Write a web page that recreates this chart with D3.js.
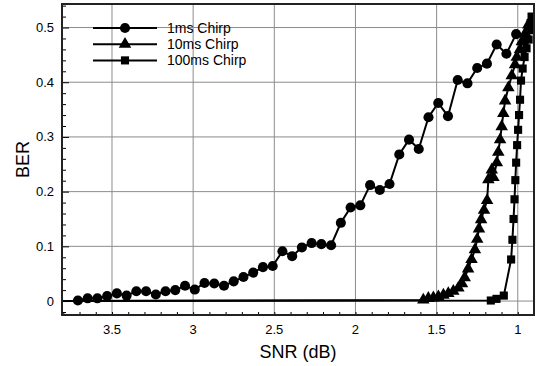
<!DOCTYPE html>
<html>
<head>
<meta charset="utf-8">
<script src="https://cdn.jsdelivr.net/npm/d3@7"></script>
<style>
  body { margin: 0; background: #fff; }
  text { font-family: "Liberation Sans", Arial, sans-serif; fill: #000; }
</style>
</head>
<body>
<script>
// series data
const snr1ms = [3.71, 3.65, 3.59, 3.53, 3.47, 3.41, 3.35, 3.29, 3.23, 3.17, 3.11, 3.05, 2.99, 2.93, 2.87, 2.81,
  2.75, 2.69, 2.63, 2.57, 2.51, 2.45, 2.39, 2.33, 2.27, 2.21, 2.15, 2.09, 2.03, 1.97, 1.91, 1.85, 1.79, 1.73,
  1.67, 1.61, 1.55, 1.49, 1.43, 1.37, 1.31, 1.25, 1.19, 1.13, 1.07, 1.01, 0.95];
const ber1ms = [0.001, 0.005, 0.005, 0.009, 0.014, 0.010, 0.018, 0.018, 0.012, 0.018, 0.020, 0.028, 0.021, 0.033,
  0.032, 0.028, 0.036, 0.044, 0.052, 0.062, 0.064, 0.091, 0.082, 0.098, 0.106, 0.104, 0.102, 0.143, 0.171, 0.175,
  0.212, 0.203, 0.214, 0.268, 0.295, 0.278, 0.336, 0.362, 0.338, 0.404, 0.398, 0.426, 0.434, 0.469, 0.452, 0.488, 0.482];

const snr10ms = [3.9, 1.582, 1.551, 1.520, 1.489, 1.458, 1.428, 1.397, 1.366, 1.344, 1.327, 1.306, 1.285, 1.264,
  1.250, 1.239, 1.226, 1.208, 1.189, 1.181, 1.160, 1.150, 1.129, 1.120, 1.109, 1.099, 1.089, 1.078, 1.058, 1.037,
  1.017, 1.006, 0.986, 0.975, 0.955, 0.935];
const ber10ms = [0, 0.002, 0.005, 0.006, 0.008, 0.011, 0.014, 0.018, 0.024, 0.032, 0.043, 0.059, 0.076, 0.094,
  0.113, 0.132, 0.149, 0.166, 0.184, 0.222, 0.240, 0.226, 0.253, 0.272, 0.295, 0.319, 0.343, 0.366, 0.390, 0.412,
  0.432, 0.446, 0.460, 0.474, 0.489, 0.505];

const snr100ms = [3.9, 1.166, 1.131, 1.086, 1.041, 1.033, 1.026, 1.020, 1.015, 1.010, 1.004, 0.998, 0.992, 0.986,
  0.980, 0.970, 0.958, 0.946, 0.933, 0.927, 0.921, 0.915];
const ber100ms = [0, 0.001, 0.004, 0.010, 0.076, 0.112, 0.150, 0.186, 0.221, 0.253, 0.285, 0.313, 0.340, 0.368,
  0.403, 0.425, 0.446, 0.462, 0.478, 0.495, 0.508, 0.520];

const seriesNames = ["1ms Chirp", "10ms Chirp", "100ms Chirp"];
const xTicks = [3.5, 3, 2.5, 2, 1.5, 1];
const yTicks = [0, 0.1, 0.2, 0.3, 0.4, 0.5];

const width = 537, height = 366;
const margin = {top: 4, right: 3, bottom: 51, left: 62};

const svg = d3.select("body").append("svg")
  .attr("width", width)
  .attr("height", height);

const x = d3.scaleLinear().domain([3.808, 0.9]).range([margin.left, width - margin.right]);
const y = d3.scaleLinear().domain([-0.0255, 0.543]).range([height - margin.bottom, margin.top]);

svg.append("clipPath").attr("id", "plot")
  .append("rect")
  .attr("x", margin.left).attr("y", margin.top)
  .attr("width", width - margin.left - margin.right)
  .attr("height", height - margin.top - margin.bottom);

// grid
svg.append("g").selectAll("line").data(xTicks).join("line")
  .attr("x1", d => x(d)).attr("x2", d => x(d))
  .attr("y1", y.range()[0]).attr("y2", y.range()[1])
  .attr("stroke", "#8c8c8c").attr("stroke-width", 1);
svg.append("g").selectAll("line").data(yTicks).join("line")
  .attr("x1", x.range()[0]).attr("x2", x.range()[1])
  .attr("y1", d => y(d)).attr("y2", d => y(d))
  .attr("stroke", "#8c8c8c").attr("stroke-width", 1);

// axes (ticks point inward)
const xAxis = d3.axisBottom(x).tickValues(d3.range(9, 39).map(d => d / 10)).tickSize(-3).tickFormat("");
const xg = svg.append("g").attr("transform", `translate(0,${y.range()[0]})`).call(xAxis);
const yAxis = d3.axisLeft(y).tickValues(d3.range(-1, 28).map(d => d / 50)).tickSize(-4).tickFormat("");
const yg = svg.append("g").attr("transform", `translate(${x.range()[0]},0)`).call(yAxis);
yg.selectAll(".tick line").filter(d => Math.abs(d * 10 - Math.round(d * 10)) < 1e-6).attr("x2", 7);
[xg, yg].forEach(g => {
  g.select(".domain").remove();
  g.selectAll(".tick line").attr("stroke", "#000").attr("stroke-width", 1);
});

svg.append("g").selectAll("text").data(xTicks).join("text")
  .attr("x", d => x(d)).attr("y", 334)
  .attr("text-anchor", "middle").attr("font-size", 13)
  .text(d => d);
svg.append("g").selectAll("text").data(yTicks).join("text")
  .attr("x", 54).attr("y", d => y(d) + 4.5)
  .attr("text-anchor", "end").attr("font-size", 13)
  .text(d => d);

svg.append("text")
  .attr("x", (x.range()[0] + x.range()[1]) / 2).attr("y", 358)
  .attr("text-anchor", "middle").attr("font-size", 18)
  .text("SNR (dB)");
svg.append("text")
  .attr("transform", `translate(28.5,${(y.range()[0] + y.range()[1]) / 2}) rotate(-90)`)
  .attr("text-anchor", "middle").attr("font-size", 18)
  .text("BER");

// data
const series = [
  {name: seriesNames[0], shape: d3.symbolCircle, size: 80, pts: d3.zip(snr1ms, ber1ms)},
  {name: seriesNames[1], shape: d3.symbolTriangle, size: 68, pts: d3.zip(snr10ms, ber10ms)},
  {name: seriesNames[2], shape: d3.symbolSquare, size: 66, pts: d3.zip(snr100ms, ber100ms)}
];

const line = d3.line().x(d => x(d[0])).y(d => y(d[1]));
const plot = svg.append("g").attr("clip-path", "url(#plot)");

series.forEach(s => {
  plot.append("path").datum(s.pts)
    .attr("d", line)
    .attr("fill", "none").attr("stroke", "#000").attr("stroke-width", 2);
  plot.append("g").selectAll("path").data(s.pts).join("path")
    .attr("transform", d => `translate(${x(d[0])},${y(d[1])})`)
    .attr("d", d3.symbol().type(s.shape).size(s.size))
    .attr("fill", "#000");
});

// frame
svg.append("rect")
  .attr("x", margin.left).attr("y", margin.top)
  .attr("width", width - margin.left - margin.right)
  .attr("height", height - margin.top - margin.bottom)
  .attr("fill", "none").attr("stroke", "#222").attr("stroke-width", 2);

// legend
const legend = svg.append("g");
series.forEach((s, i) => {
  const ly = 28 + i * 16.2;
  legend.append("line")
    .attr("x1", 93).attr("x2", 157).attr("y1", ly).attr("y2", ly)
    .attr("stroke", "#000").attr("stroke-width", 2);
  legend.append("path")
    .attr("transform", `translate(125,${ly})`)
    .attr("d", d3.symbol().type(s.shape).size(s.size))
    .attr("fill", "#000");
  legend.append("text")
    .attr("x", 167).attr("y", ly + 5)
    .attr("font-size", 14)
    .text(s.name);
});
</script>
</body>
</html>
